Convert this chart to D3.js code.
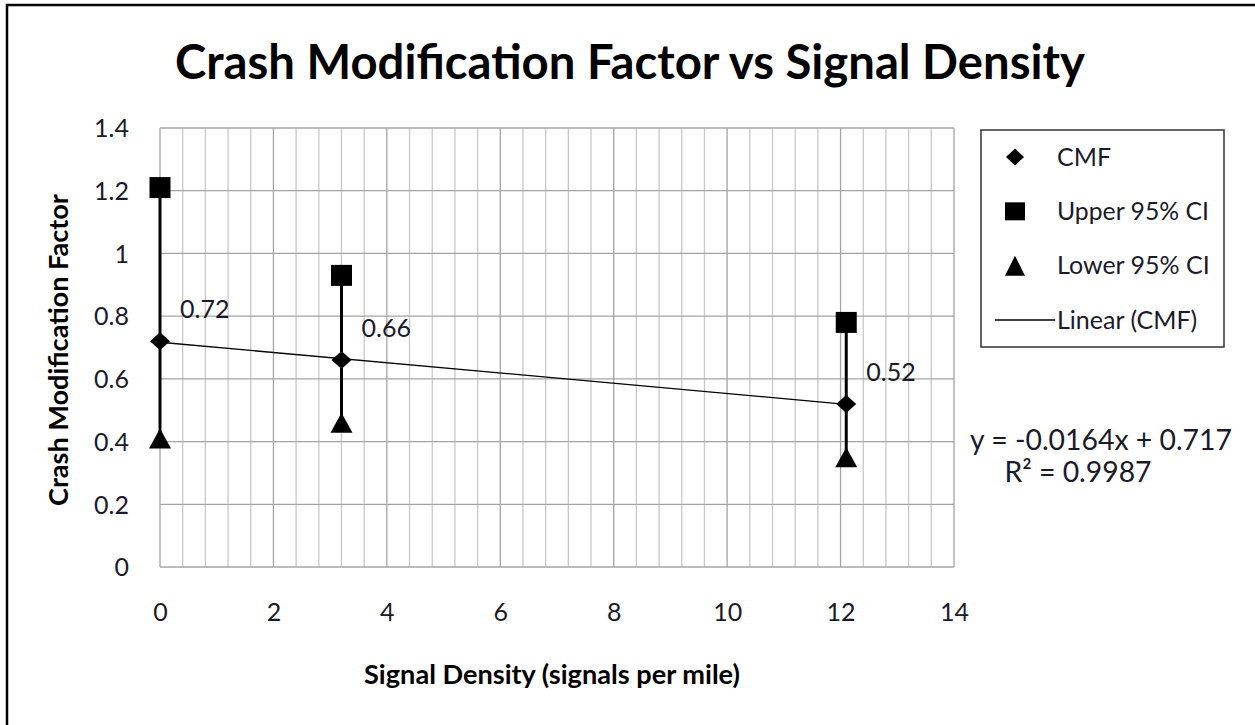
<!DOCTYPE html>
<html>
<head>
<meta charset="utf-8">
<script src="https://cdn.jsdelivr.net/npm/d3@7"></script>
<style>
  body { margin: 0; background: #fff; overflow: hidden; }
  svg { display: block; font-family: Lato, "Open Sans", sans-serif; }
</style>
</head>
<body>
<svg id="chart" width="1255" height="725"></svg>
<script>
// data
const density = [0, 3.2, 12.1];
const cmf = [0.72, 0.66, 0.52];
const upper = [1.21, 0.93, 0.78];
const lower = [0.41, 0.46, 0.35];
const xTicks = [0, 2, 4, 6, 8, 10, 12, 14];
const yTicks = [0, 0.2, 0.4, 0.6, 0.8, 1, 1.2, 1.4];
const legendNames = ["CMF", "Upper 95% CI", "Lower 95% CI", "Linear (CMF)"];
const eqText = ["y = -0.0164x + 0.717", "R² = 0.9987"];

const svg = d3.select("#chart");
const plot = { left: 160, top: 128, right: 954, bottom: 567 };
const txt = "#1a1a2a";
const fsSmall = 25;

const x = d3.scaleLinear().domain([0, 14]).range([plot.left, plot.right]);
const y = d3.scaleLinear().domain([0, 1.4]).range([plot.bottom, plot.top]);

// outer chart border (only top and left edges fall inside the picture)
svg.append("path")
  .attr("d", "M7,725 V5 H1255")
  .attr("fill", "none").attr("stroke", "#000").attr("stroke-width", 2.5);

// minor vertical gridlines
const minorX = d3.range(0, 14.001, 0.4).filter(v => Math.abs(v / 2 - Math.round(v / 2)) > 0.01);
svg.append("g").selectAll("line").data(minorX).join("line")
  .attr("x1", d => x(d)).attr("x2", d => x(d))
  .attr("y1", plot.top).attr("y2", plot.bottom)
  .attr("stroke", "#c8c8c8").attr("stroke-width", 1.3);

// major gridlines
svg.append("g").selectAll("line").data(xTicks).join("line")
  .attr("x1", d => x(d)).attr("x2", d => x(d))
  .attr("y1", plot.top).attr("y2", plot.bottom)
  .attr("stroke", "#a4a4a4").attr("stroke-width", 1.3);
svg.append("g").selectAll("line").data(yTicks).join("line")
  .attr("x1", plot.left).attr("x2", plot.right)
  .attr("y1", d => y(d)).attr("y2", d => y(d))
  .attr("stroke", "#a4a4a4").attr("stroke-width", 1.3);

// axes (labels only, Excel style)
const xAxis = svg.append("g")
  .attr("transform", `translate(0,${plot.bottom + 33})`)
  .call(d3.axisBottom(x).tickValues(xTicks).tickSize(0).tickFormat(d3.format("d")));
const yAxis = svg.append("g")
  .attr("transform", `translate(${plot.left - 28},0)`)
  .call(d3.axisLeft(y).tickValues(yTicks).tickSize(0).tickFormat(d => d3.format("")(+d.toFixed(1))));
[xAxis, yAxis].forEach(a => {
  a.select(".domain").remove();
  a.selectAll("text").attr("font-family", "Lato, sans-serif").attr("font-size", fsSmall).attr("fill", txt);
});
yAxis.selectAll("text").attr("dy", "0.35em");

// fit a text to a target width by scaling its font size
function fitWidth(sel, width) {
  const w = sel.node().getComputedTextLength();
  const fs = parseFloat(sel.attr("font-size"));
  sel.attr("font-size", fs * width / w);
}

// title
const title = svg.append("text")
  .attr("x", 630).attr("y", 79).attr("text-anchor", "middle")
  .attr("font-size", 40).attr("font-weight", "bold").attr("fill", "#000")
  .text("Crash Modification Factor vs Signal Density");
fitWidth(title, 910);

// axis titles
const xt = svg.append("text")
  .attr("x", 552).attr("y", 684).attr("text-anchor", "middle")
  .attr("font-size", 18).attr("font-weight", "bold")
  .text("Signal Density (signals per mile)");
fitWidth(xt, 376);
const yt = svg.append("text")
  .attr("transform", "translate(68,350) rotate(-90)").attr("text-anchor", "middle")
  .attr("font-size", 18).attr("font-weight", "bold")
  .text("Crash Modification Factor");
fitWidth(yt, 312);

// linear trend fitted to the CMF points
const mx = d3.mean(density), my = d3.mean(cmf);
const slope = d3.sum(density, (d, i) => (d - mx) * (cmf[i] - my)) / d3.sum(density, d => (d - mx) ** 2);
const icpt = my - slope * mx;
const xr = d3.extent(density);
svg.append("line")
  .attr("x1", x(xr[0])).attr("y1", y(icpt + slope * xr[0]))
  .attr("x2", x(xr[1])).attr("y2", y(icpt + slope * xr[1]))
  .attr("stroke", "#000").attr("stroke-width", 1.3);

// CI bars
const pts = density.map((d, i) => ({ x: d, cmf: cmf[i], up: upper[i], lo: lower[i] }));
svg.append("g").selectAll("line").data(pts).join("line")
  .attr("x1", d => x(d.x)).attr("x2", d => x(d.x))
  .attr("y1", d => y(d.lo)).attr("y2", d => y(d.up))
  .attr("stroke", "#000").attr("stroke-width", 3);

// Excel-like marker shapes
const sq = (w, h) => `M${-w / 2},${-h / 2}h${w}v${h}h${-w}Z`;
const tri = (w, h) => `M0,${-h / 2}L${w / 2},${h / 2}L${-w / 2},${h / 2}Z`;
const dia = (w, h) => `M0,${-h / 2}L${w / 2},0L0,${h / 2}L${-w / 2},0Z`;

svg.append("g").selectAll("path").data(pts).join("path")
  .attr("transform", d => `translate(${x(d.x)},${y(d.up)})`).attr("d", sq(21, 21)).attr("fill", "#000");
svg.append("g").selectAll("path").data(pts).join("path")
  .attr("transform", d => `translate(${x(d.x)},${y(d.lo)})`).attr("d", tri(22, 20)).attr("fill", "#000");
svg.append("g").selectAll("path").data(pts).join("path")
  .attr("transform", d => `translate(${x(d.x)},${y(d.cmf)})`).attr("d", dia(20, 18)).attr("fill", "#000");

// data labels
svg.append("g").selectAll("text").data(pts).join("text")
  .attr("x", d => x(d.x) + 20).attr("y", d => y(d.cmf) - 32)
  .attr("dy", "0.35em").attr("font-size", fsSmall).attr("fill", txt)
  .text(d => d3.format(".2f")(d.cmf));

// equation
const eq1 = svg.append("text").attr("x", 1101).attr("y", 440).attr("dy", "0.35em")
  .attr("text-anchor", "middle").attr("font-size", fsSmall).attr("fill", txt).text(eqText[0]);
fitWidth(eq1, 262);
const eq2 = svg.append("text").attr("x", 1078).attr("y", 472).attr("dy", "0.35em")
  .attr("text-anchor", "middle").attr("font-size", fsSmall).attr("fill", txt).text(eqText[1]);
eq2.attr("font-size", eq1.attr("font-size"));

// legend
const lg = svg.append("g");
lg.append("rect").attr("x", 981).attr("y", 130).attr("width", 243).attr("height", 217)
  .attr("fill", "#fff").attr("stroke", "#333").attr("stroke-width", 1.5);
const ly = d3.scalePoint().domain(legendNames).range([157, 320]);
const lsym = [dia(18, 17), sq(20, 18), tri(20, 20)];
legendNames.forEach((name, i) => {
  if (i < 3) {
    lg.append("path").attr("transform", `translate(1015,${ly(name)})`).attr("d", lsym[i]).attr("fill", "#000");
  } else {
    lg.append("line").attr("x1", 995).attr("x2", 1055).attr("y1", ly(name)).attr("y2", ly(name))
      .attr("stroke", "#000").attr("stroke-width", 1.3);
  }
  const t = lg.append("text").attr("x", 1057).attr("y", ly(name)).attr("dy", "0.35em")
    .attr("font-size", fsSmall).attr("fill", txt).text(name);
  if (i === 1) fitWidth(t, 152);
});
</script>
</body>
</html>
